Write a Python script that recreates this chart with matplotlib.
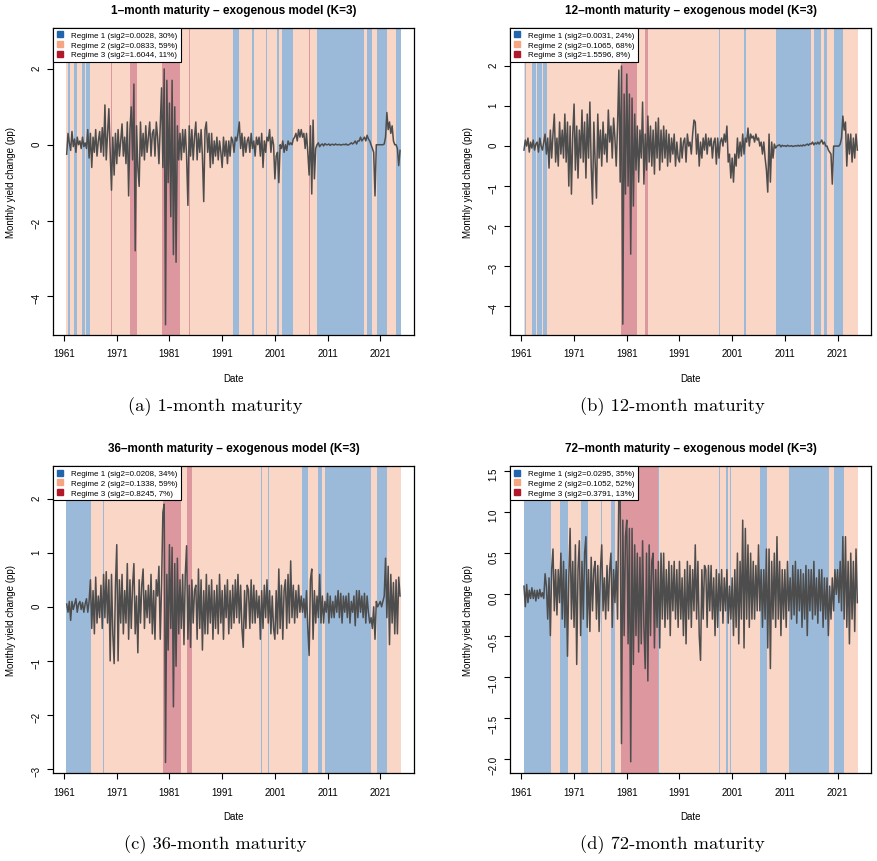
import numpy as np
import matplotlib.pyplot as plt
from matplotlib.lines import Line2D

plt.rcParams['font.family'] = ['Liberation Sans', 'DejaVu Sans']

regime_cols = ['#2166AC', '#F4A582', '#B2182B']
year_ticks = [1961, 1971, 1981, 1991, 2001, 2011, 2021]
t_start = 1961.5      # first observation (quarterly readings)
t_end = 2024.9        # last month shown in the shading

# Monthly yield changes at quarterly resolution
y_1m = [-0.25, 0.3,
        0.05, -0.15, 0.35, -0.05,  0.15, -0.2, 0.2, 0.0,  0.1, -0.1, 0.2, -0.05,
        0.05, -0.1, 0.4, -0.35,  0.3, -0.6, 0.2, -0.2,  0.4, -0.3, 0.1, 0.35,
        -0.2, 0.45, -0.3, 1.05,  -0.4, 0.3, 0.95, -0.2,  -1.2, 0.2, -0.8, 0.3,
        -0.5, 0.4, -0.3, 0.1,  0.55, -0.3, 0.2, -0.5,  0.6, -1.35, 0.4, 1.0,
        -0.4, 1.6, -2.8, 0.5,  -0.6, -1.1, 0.6, -0.3,  0.3, -0.4, 0.5, -0.2,
        0.2, 0.6, -0.3, 0.3,  0.4, -0.3, 0.6, 0.2,  -0.5, 0.5, 1.5, -0.6,
        2.0, -4.75, 1.7, -1.0,  1.1, -1.9, 1.7, -2.9,  1.0, -3.1, 0.5, -0.4,
        0.3, -0.4, 0.4, -0.2,  0.4, -0.3, -1.6, 0.5,  -0.3, 0.4, -0.4, 0.2,
        0.6, -0.4, 0.3, -0.2,  0.4, -0.3, -1.5, 0.4,  0.6, -0.2, 0.3, -0.6,
        0.3, -0.5, 0.1, -0.3,  0.2, -0.4, 0.1, -0.2,  -0.6, 0.2, -0.3, 0.1,
        -0.5, 0.1, -0.3, 0.2,  0.1, -0.2, 0.2, 0.1,  0.3, 0.6, -0.1, 0.3,
        -0.3, 0.2, -0.2, 0.1,  0.2, -0.2, 0.3, -0.1,  0.1, -0.3, 0.2, 0.0,
        0.2, -0.3, 0.3, -0.6,  0.1, -0.2, 0.2, 0.1,  0.4, -0.2, 0.2, 0.0,
        -0.9, -0.3, -0.2, -1.0,  0.0, -0.1, 0.1, -0.2,  0.0, -0.15, 0.1, 0.0,
        0.05, 0.0, 0.15, 0.2,  0.3, 0.1, 0.4, 0.2,  0.4, 0.2, 0.3, -0.1,
        0.3, -0.2, -0.8, 0.5,  -1.3, 0.65, -0.9, -0.1,  0.0, 0.05, -0.05, 0.0,
        0.02, -0.03, 0.03, 0.0,  0.0, 0.02, -0.02, 0.01,  0.01, -0.01, 0.02, 0.0,
        0.0, 0.01, -0.01, 0.0,  0.01, 0.0, 0.02, -0.01,  0.0, 0.02, 0.05, 0.02,
        0.05, 0.1, 0.02, 0.1,  0.1, 0.2, 0.1, 0.15,  0.2, 0.1, 0.25, 0.15,
        0.1, 0.0, -0.1, -0.2,  -1.35, 0.0, 0.0, 0.0,  0.0, 0.0, 0.0, 0.02,
        0.2, 0.85, 0.4, 0.6,  0.3, 0.5, 0.1, 0.0,  0.0, -0.1, -0.55, -0.15]

y_12m = [-0.1, 0.15,
         0.0, 0.2, -0.15, 0.1,  -0.05, 0.15, -0.1, 0.05,  0.1, -0.15, 0.2, 0.0,
         -0.1, 0.1, 0.3, -0.2,  0.2, -0.55, 0.4, -0.3,  0.3, 0.8, -0.4, 0.2,
         -0.5, 0.6, -0.2, 0.4,  -0.3, 0.8, -0.4, 0.6,  -1.0, 0.5, -1.2, 0.3,
         1.05, -0.6, 0.5, -0.8,  0.4, -0.3, 0.9, -0.4,  0.6, -0.8, 0.8, -0.3,
         1.1, -0.5, -1.45, 0.6,  -0.4, -1.3, 0.8, -0.3,  0.4, -0.5, 0.6, -0.2,
         0.3, -0.4, 0.9, 0.1,  0.5, -0.3, 0.7, 0.2,  -0.5, 0.5, 1.9, -0.9,
         2.0, -4.45, 1.3, -1.2,  1.8, -1.0, 1.3, -2.7,  1.2, -1.5, 0.8, -0.6,
         0.5, -0.9, 0.4, -0.3,  1.1, -0.95, 0.3, -0.6,  0.75, -0.4, 0.5, -0.5,
         0.4, -0.7, 0.6, -0.3,  0.7, -0.6, 0.4, -0.4,  0.5, -0.3, 0.4, -0.5,
         0.3, -0.4, 0.2, -0.2,  0.3, -0.5, 0.1, -0.3,  -0.4, 0.2, -0.3, 0.1,
         0.2, -0.4, 0.3, 0.0,  0.1, -0.2, 0.3, 0.65,  0.6, -0.2, 0.3, -0.5,
         0.1, -0.3, 0.2, -0.1,  0.3, -0.2, 0.2, 0.0,  0.2, -0.3, 0.1, 0.2,
         -0.45, 0.2, -0.3, 0.1,  0.2, 0.0, 0.3, 0.1,  0.5, -0.4, -0.2, -0.8,
         -0.3, -0.9, -0.2, -0.5,  0.2, -0.3, 0.1, -0.25,  0.3, -0.2, 0.2, 0.1,
         0.45, 0.0, 0.3, 0.2,  0.25, 0.1, 0.3, 0.15,  0.2, 0.0, 0.1, -0.2,
         0.1, -0.3, -0.6, -1.15,  0.3, -0.9, 0.1, -0.3,  0.05, -0.05, 0.0, 0.02,
         0.03, -0.02, 0.02, 0.0,  0.01, -0.01, 0.02, 0.0,  0.0, 0.01, -0.01, 0.0,
         0.01, 0.0, 0.02, 0.0,  0.02, 0.0, 0.03, 0.01,  0.03, 0.05, 0.02, 0.06,
         0.05, 0.1, 0.03, 0.08,  0.05, 0.1, 0.05, 0.1,  0.15, 0.05, 0.1, 0.0,
         0.0, -0.1, -0.15, -0.2,  -0.95, 0.0, 0.0, 0.0,  0.0, 0.0, 0.05, 0.2,
         0.75, 0.4, 0.6, -0.5,  0.3, -0.2, 0.3, -0.4,  0.2, -0.3, 0.3, -0.1]

y_36m = [0.05, -0.1,
         0.1, -0.25, 0.1, -0.05,  0.05, 0.15, -0.1, 0.05,  0.1, -0.05, 0.08, -0.1,
         0.05, 0.15, -0.1, 0.1,  0.5, -0.4, 0.3, -0.5,  0.55, -0.3, 0.2, -0.2,
         0.4, -0.4, 0.6, -0.2,  0.65, -0.3, 0.5, -1.0,  0.6, -0.5, -1.05, 0.4,
         1.15, -1.0, 0.5, -0.3,  0.6, -0.5, 0.3, -0.3,  0.8, -0.6, 0.5, -0.4,
         0.4, 0.8, -0.5, 0.2,  -0.85, 0.5, -0.3, 0.4,  0.7, -0.4, 0.3, -0.2,
         0.4, -0.3, 0.6, -0.5,  0.3, -0.6, 0.5, 0.2,  0.75, -0.6, 0.4, 1.75,
         1.9, -2.88, 0.6, -0.8,  1.15, -0.4, 1.1, -1.85,  0.8, -1.1, 0.9, -0.5,
         0.5, -0.4, 0.6, -0.7,  0.6, 1.13, -0.6, 0.4,  -0.75, 0.5, -0.3, 0.3,
         0.4, -0.6, 0.7, -0.4,  0.5, -0.8, 0.3, -0.5,  0.6, -0.5, 0.4, -0.3,
         0.5, -0.6, 0.3, -0.4,  0.4, -0.5, 0.6, -0.3,  0.3, -0.6, 0.4, -0.2,
         0.5, -0.5, 0.3, -0.4,  0.4, -0.3, 0.5, -0.2,  0.6, -0.3, 0.4, -0.4,
         -0.75, 0.3, -0.4, 0.4,  0.3, -0.4, 0.5, -0.3,  0.4, -0.3, 0.3, -0.2,
         0.2, -0.6, 0.3, -0.4,  0.4, -0.2, 0.5, -0.3,  0.3, -0.5, 0.2, -0.4,
         -0.6, 0.3, -0.5, 0.7,  -0.4, 0.4, -0.6, 0.3,  0.5, -0.4, 0.6, -0.3,
         0.85, -0.2, 0.4, -0.3,  0.3, -0.2, 0.4, -0.1,  0.2, -0.1, 0.15, -0.2,
         0.3, -0.4, -0.9, 0.5,  0.7, -0.6, 0.3, -0.3,  0.2, -0.2, 0.6, -0.3,
         0.2, -0.3, 0.1, -0.1,  0.25, -0.3, 0.2, -0.2,  0.1, -0.2, 0.2, -0.1,
         0.3, -0.2, 0.25, -0.3,  0.2, -0.1, 0.2, -0.2,  0.25, -0.3, 0.1, -0.1,
         0.2, -0.35, 0.3, -0.2,  0.3, -0.1, 0.2, -0.2,  0.25, -0.3, 0.2, -0.1,
         -0.3, -0.2, -0.4, 0.0,  -0.6, 0.1, 0.0, 0.05,  0.1, 0.0, 0.1, 0.2,
         0.9, -0.2, 0.75, -0.7,  0.6, -0.3, 0.45, -0.5,  0.5, -0.5, 0.55, 0.2]

y_72m = [0.1, -0.15,
         0.12, -0.1, 0.05, -0.05,  0.08, -0.05, 0.05, -0.08,  0.05, -0.05, 0.06, -0.03,
         0.02, -0.05, 0.25, 0.1,  -0.3, 0.2, -0.5, 0.3,  0.55, -0.2, 0.3, -0.25,
         0.3, -0.1, 0.5, -0.3,  0.4, -0.4, 0.3, -0.75,  0.2, 0.8, -0.3, 0.4,
         -0.4, 0.6, -0.85, 0.3,  0.65, -0.5, 0.4, -0.3,  0.5, 0.7, -0.4, 0.3,
         -0.45, 0.45, -0.2, 0.3,  0.4, -0.3, 0.35, -0.45,  0.3, 0.6, -0.2, 0.2,
         -0.3, 0.35, -0.2, 0.3,  0.5, -0.4, 0.3, -0.1,  0.4, -0.3, 1.3, 1.2,
         -1.81, 0.9, -0.5, 0.7,  0.9, -0.6, 0.8, -2.03,  0.8, -0.85, 0.6, -0.5,
         0.5, -0.7, 0.45, -0.6,  0.65, -0.4, -0.9, 0.5,  -1.05, 0.6, -0.5, 0.4,
         0.5, -0.65, 0.3, -0.4,  0.4, -0.65, 0.5, -0.3,  0.5, -0.4, 0.3, -0.3,
         0.4, -0.5, 0.35, -0.2,  0.4, -0.3, 0.3, -0.4,  0.4, -0.3, 0.2, -0.5,
         0.3, -0.6, 0.4, -0.3,  0.35, -0.4, 0.3, -0.2,  0.6, -0.3, 0.4, -0.5,
         -0.8, 0.3, -0.3, 0.35,  0.3, -0.4, 0.35, -0.2,  0.35, -0.3, 0.2, -0.5,
         0.3, -0.4, 0.25, -0.2,  0.3, -0.35, 0.2, -0.2,  0.3, -0.35, 0.1, -0.3,
         0.2, -0.5, 0.3, -0.4,  0.5, -0.6, 0.4, -0.3,  0.9, -0.65, 0.8, -0.3,
         0.6, -0.4, 0.5, -0.3,  0.4, -0.3, 0.35, -0.2,  0.6, -0.2, 0.3, -0.4,
         0.3, -0.3, 0.55, -0.65,  0.55, -0.9, 0.4, -0.3,  0.5, -0.4, 0.7, -0.3,
         0.4, -0.5, 0.3, -0.3,  0.3, -0.4, 0.4, -0.2,  0.2, -0.3, 0.35, -0.25,
         0.4, -0.35, 0.3, -0.2,  0.3, -0.4, 0.25, -0.3,  0.35, -0.5, 0.3, -0.2,
         0.3, -0.3, 0.4, -0.25,  0.2, -0.35, 0.3, -0.2,  0.3, -0.4, 0.2, -0.3,
         0.2, -0.5, 0.1, -0.3,  0.2, -0.2, 0.3, 0.0,  0.3, -0.1, 0.4, -0.2,
         0.7, -0.3, 0.7, -0.4,  0.4, -0.6, 0.5, -0.3,  0.4, -0.45, 0.55, -0.1]

# Regime paths as runs: start year of each run and the regime (1, 2, 3)
reg_1m_start = [1961.45, 1961.7, 1962.0, 1962.9, 1963.5, 1964.4, 1964.9, 1965.1, 1965.9,
                1969.85, 1970.0, 1973.5, 1974.8, 1979.6, 1982.9, 1984.6, 1984.8,
                1993.0, 1994.1, 1994.85, 1995.0, 1996.6, 1997.0, 1999.25, 1999.4,
                2001.4, 2001.8, 2002.2, 2004.3, 2007.45, 2007.6, 2009.0, 2017.8,
                2018.4, 2019.4, 2020.4, 2022.2, 2024.0]
reg_1m_state = [2, 1, 2, 1, 2, 1, 2, 1, 2,
                3, 2, 3, 2, 3, 2, 3, 2,
                1, 2, 1, 2, 1, 2, 1, 2,
                1, 2, 1, 2, 3, 2, 1, 2,
                1, 2, 1, 2, 1]

reg_12m_start = [1961.45, 1961.6, 1961.8, 1963.0, 1963.7, 1964.0, 1964.9, 1965.1, 1965.7,
                 1974.45, 1974.6, 1979.8, 1982.8, 1984.5, 1984.9, 1998.4, 1998.55,
                 2003.2, 2003.5, 2009.2, 2016.0, 2016.4, 2017.8, 2018.3, 2019.0,
                 2020.3, 2021.9]
reg_12m_state = [2, 1, 2, 1, 2, 1, 2, 1, 2,
                 3, 2, 3, 2, 3, 2, 1, 2,
                 1, 2, 1, 2, 1, 2, 1, 2,
                 1, 2]

reg_36m_start = [1961.45, 1966.0, 1968.4, 1968.55, 1979.8, 1983.1, 1984.3, 1985.3,
                 1998.4, 1998.55, 1999.7, 1999.85, 2006.1, 2007.2, 2009.1, 2010.0,
                 2010.5, 2019.2, 2020.3, 2022.2]
reg_36m_state = [1, 2, 1, 2, 3, 2, 3, 2,
                 1, 2, 1, 2, 1, 2, 1, 2,
                 1, 2, 1, 2]

reg_72m_start = [1961.45, 1966.6, 1968.2, 1969.7, 1972.3, 1973.6, 1976.05, 1976.2,
                 1977.9, 1978.7, 1979.8, 1986.8, 1987.0, 1998.4, 1998.55, 1999.8,
                 2000.1, 2000.6, 2000.75, 2006.2, 2007.5, 2011.8, 2019.2, 2020.3, 2022.2]
reg_72m_state = [1, 2, 1, 2, 1, 2, 1, 2,
                 1, 2, 3, 1, 2, 1, 2, 1,
                 2, 1, 2, 1, 2, 1, 2, 1, 2]

titles = ['1\u2013month maturity \u2013 exogenous model (K=3)',
          '12\u2013month maturity \u2013 exogenous model (K=3)',
          '36\u2013month maturity \u2013 exogenous model (K=3)',
          '72\u2013month maturity \u2013 exogenous model (K=3)']
captions = ['(a) 1-month maturity', '(b) 12-month maturity',
            '(c) 36-month maturity', '(d) 72-month maturity']
sig2 = [[0.0028, 0.0833, 1.6044], [0.0031, 0.1065, 1.5596],
        [0.0208, 0.1338, 0.8245], [0.0295, 0.1052, 0.3791]]
shares = [[30, 59, 11], [24, 68, 8], [34, 59, 7], [35, 52, 13]]
ylims = [(-5.02, 3.08), (-4.72, 2.95), (-3.08, 2.6), (-2.17, 1.553)]
yticks = [[-4, -2, 0, 2], [-4, -3, -2, -1, 0, 1, 2], [-3, -2, -1, 0, 1, 2],
          [-2.0, -1.5, -1.0, -0.5, 0.0, 0.5, 1.0, 1.5]]

series = [y_1m, y_12m, y_36m, y_72m]
reg_starts = [reg_1m_start, reg_12m_start, reg_36m_start, reg_72m_start]
reg_states = [reg_1m_state, reg_12m_state, reg_36m_state, reg_72m_state]

W, H = 878, 862
fig = plt.figure(figsize=(W / 100, H / 100), dpi=100)

# axes boxes in pixels: left, top, right, bottom
boxes = [(53, 29, 414, 336), (510.3, 29, 871.3, 336),
         (53, 467.3, 414, 774.3), (510.3, 467.3, 871.3, 774.3)]
title_y = [11, 11, 449, 449]
cap_y = [407, 407, 845, 845]

months = np.arange(1961.45, t_end, 1 / 12)

for i in range(4):
    l, t, r, b = boxes[i]
    ax = fig.add_axes([l / W, 1 - b / H, (r - l) / W, (b - t) / H])

    # regime shading month by month
    st = np.array(reg_starts[i])
    state = np.array(reg_states[i])
    for m in months:
        k = state[np.searchsorted(st, m, side='right') - 1]
        ax.axvspan(m, m + 1 / 12, color=regime_cols[k - 1], alpha=0.45, lw=0, zorder=1)

    vals = np.array(series[i])
    tt = t_start + 0.25 * np.arange(len(vals))
    ax.plot(tt, vals, color='#4D4D4D', lw=1.1, zorder=3)

    ax.set_xlim(1958.9, 2027.4)
    ax.set_ylim(*ylims[i])
    ax.set_xticks(year_ticks)
    ax.set_yticks(yticks[i])
    ax.tick_params(axis='both', direction='out', length=4.1, width=0.8, labelsize=7)
    ax.tick_params(axis='x', pad=5.5)
    ax.tick_params(axis='y', pad=4.2, labelrotation=90)
    for s in ax.spines.values():
        s.set_linewidth(0.9)

    ax.set_xlabel('Date', fontsize=7)
    ax.set_ylabel('Monthly yield change (pp)', fontsize=7)
    ax.xaxis.set_label_coords(0.5, -0.124)
    ax.yaxis.set_label_coords(-0.103, 0.5)

    handles = [Line2D([], [], marker='s', ls='', color=c, markersize=4) for c in regime_cols]
    labels = ['Regime %d (sig2=%.4f, %d%%)' % (j + 1, sig2[i][j], shares[i][j]) for j in range(3)]
    leg = ax.legend(handles, labels, loc='upper left', bbox_to_anchor=(0, 1),
                    borderaxespad=0, fontsize=5.75, handlelength=0.9, handletextpad=0.9,
                    labelspacing=0.25, borderpad=0.45, fancybox=False, framealpha=1)
    leg.get_frame().set_edgecolor('black')
    leg.get_frame().set_linewidth(0.8)

    fig.text((l + r) / 2 / W, 1 - title_y[i] / H, titles[i], ha='center', va='center',
             fontsize=8.5, fontweight='bold')
    fig.text((l + r) / 2 / W - 18 / W, 1 - cap_y[i] / H, captions[i], ha='center',
             va='center', fontsize=13.3, family='cmr10')

fig.savefig('out.png', dpi=100)
